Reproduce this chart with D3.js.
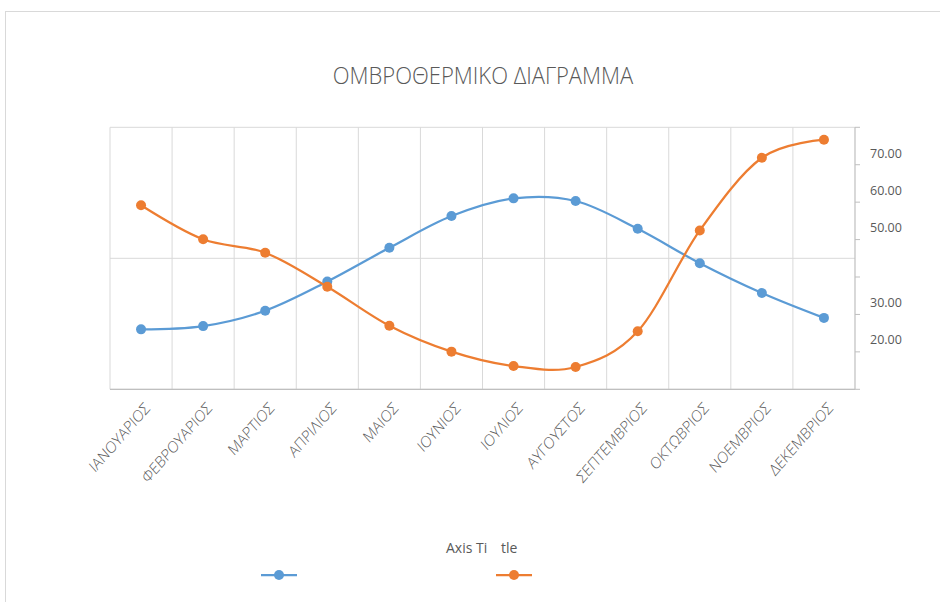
<!DOCTYPE html>
<html><head><meta charset="utf-8">
<script src="https://cdn.jsdelivr.net/npm/d3@7"></script>
<style>body{margin:0;background:#fff}svg{display:block}text{font-family:"Open Sans","Liberation Sans",sans-serif}</style>
</head><body><svg id="c" width="940" height="602"></svg>
<script>
const months = ["ΙΑΝΟΥΑΡΙΟΣ","ΦΕΒΡΟΥΑΡΙΟΣ","ΜΑΡΤΙΟΣ","ΑΠΡΙΛΙΟΣ","ΜΑΙΟΣ","ΙΟΥΝΙΟΣ","ΙΟΥΛΙΟΣ","ΑΥΓΟΥΣΤΟΣ","ΣΕΠΤΕΜΒΡΙΟΣ","ΟΚΤΩΒΡΙΟΣ","ΝΟΕΜΒΡΙΟΣ","ΔΕΚΕΜΒΡΙΟΣ"];
const blueSeries = [18.3,19.3,24.0,32.9,43.2,52.9,58.3,57.5,49.0,38.5,29.4,21.8];
const orangeSeries = [56.2,45.8,41.7,31.3,19.4,11.5,7.1,6.8,17.7,48.5,70.7,76.2];
const rightTickLabels = [70,60,50,30,20];
const primaryGridValues = [0,40,80];
const title = "ΟΜΒΡΟΘΕΡΜΙΚΟ ΔΙΑΓΡΑΜΜΑ";

const svg = d3.select("#c");
const L = 110, R = 855, T = 127.3, B = 389.3;
const txt = "#595959", grid = "#d9d9d9", axisC = "#bfbfbf";
const blue = "#5B9BD5", orange = "#ED7D31";

// chart area border
svg.append("rect").attr("x",5.5).attr("y",11.5).attr("width",940).attr("height",600)
  .attr("fill","none").attr("stroke","#d9d9d9");

svg.append("text").attr("transform","translate(483,77) scale(1,1.12)").attr("text-anchor","middle")
  .attr("dominant-baseline","middle").attr("font-size",22).attr("fill",txt)
  .attr("font-weight",300).text(title);

const x = d3.scaleBand().domain(months).range([L,R]);
const y = d3.scaleLinear().domain([0,80]).range([B,T]);
const yRight = d3.scaleLinear().domain([0,80]).range([415,117.4]);

// vertical gridlines at category boundaries
const g = svg.append("g");
months.forEach((m,i)=>{
  const xv = x(m);
  g.append("line").attr("x1",xv).attr("x2",xv).attr("y1",T).attr("y2",B)
    .attr("stroke",grid).attr("stroke-width",1);
});
primaryGridValues.forEach(v=>{
  g.append("line").attr("x1",L).attr("x2",R).attr("y1",y(v)).attr("y2",y(v))
    .attr("stroke",grid).attr("stroke-width",1);
});
// bottom axis line
svg.append("line").attr("x1",L).attr("x2",R).attr("y1",B).attr("y2",B).attr("stroke",axisC).attr("stroke-width",1.2);

// right axis: line with evenly spaced ticks
const yTicks = d3.scaleLinear().domain([0,7]).range([B,T]);
svg.append("line").attr("x1",R).attr("x2",R).attr("y1",T).attr("y2",B).attr("stroke",axisC).attr("stroke-width",1.2);
d3.range(8).forEach(i=>{
  svg.append("line").attr("x1",R).attr("x2",R+5).attr("y1",yTicks(i)).attr("y2",yTicks(i)).attr("stroke",axisC);
});
rightTickLabels.forEach(v=>{
  svg.append("text").attr("x",870).attr("y",yRight(v)).attr("dominant-baseline","middle")
    .attr("font-size",12.5).attr("fill",txt).text(d3.format(".2f")(v));
});

// category labels
months.forEach(m=>{
  const cx = x(m)+x.bandwidth()/2 + 7;
  svg.append("text").attr("transform",`translate(${cx},${B+17}) scale(1,1.15) rotate(-45)`)
    .attr("text-anchor","end").attr("dominant-baseline","middle")
    .attr("font-size",14).attr("font-weight",300).attr("fill",txt).text(m);
});

const line = d3.line().x((d,i)=>x(months[i])+x.bandwidth()/2).y(d=>y(d)).curve(d3.curveCatmullRom.alpha(0));
[[blueSeries,blue],[orangeSeries,orange]].forEach(([s,c])=>{
  svg.append("path").datum(s).attr("d",line).attr("fill","none").attr("stroke",c).attr("stroke-width",2.25);
  svg.selectAll(null).data(s).enter().append("circle")
    .attr("cx",(d,i)=>x(months[i])+x.bandwidth()/2).attr("cy",d=>y(d)).attr("r",5).attr("fill",c);
});

// axis title
const at = svg.append("text").attr("x",446).attr("y",549).attr("dominant-baseline","middle")
  .attr("font-size",14).attr("fill",txt);
at.append("tspan").text("Axis Ti");
at.append("tspan").attr("x",501).text("tle");

// legend
[[279,blue],[514,orange]].forEach(([cx,c])=>{
  svg.append("line").attr("x1",cx-18).attr("x2",cx+18).attr("y1",575).attr("y2",575).attr("stroke",c).attr("stroke-width",2.25);
  svg.append("circle").attr("cx",cx).attr("cy",575).attr("r",5).attr("fill",c);
});
</script></body></html>
